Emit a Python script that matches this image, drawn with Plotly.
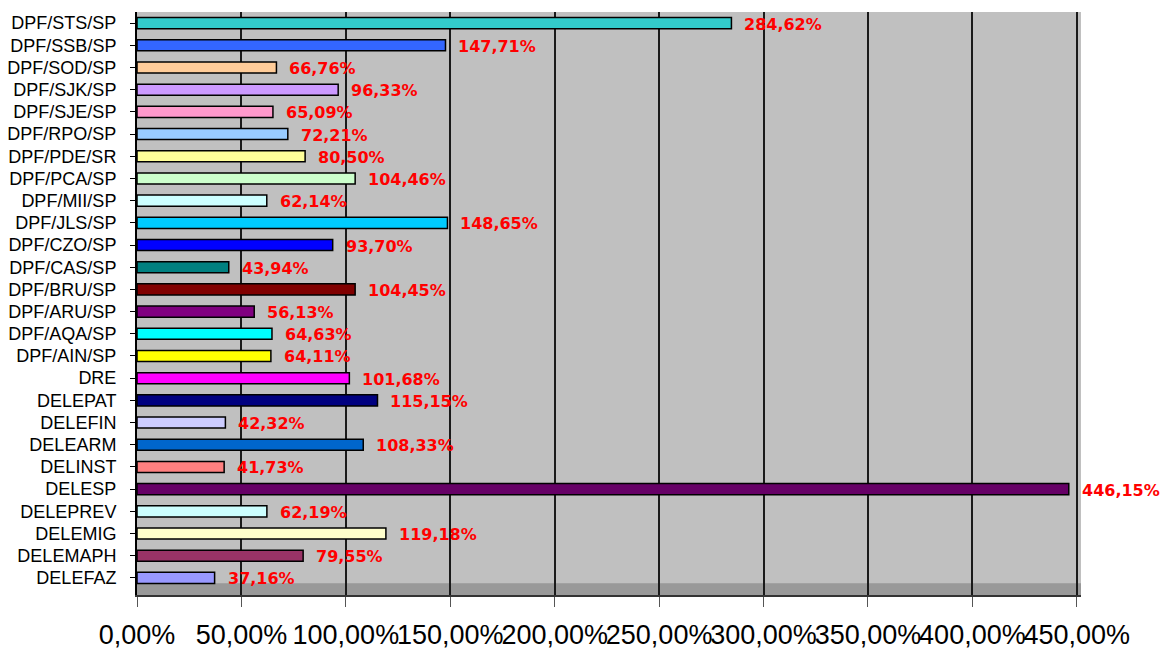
import plotly.graph_objects as go

categories = ["DPF/STS/SP", "DPF/SSB/SP", "DPF/SOD/SP", "DPF/SJK/SP", "DPF/SJE/SP",
              "DPF/RPO/SP", "DPF/PDE/SR", "DPF/PCA/SP", "DPF/MII/SP", "DPF/JLS/SP",
              "DPF/CZO/SP", "DPF/CAS/SP", "DPF/BRU/SP", "DPF/ARU/SP", "DPF/AQA/SP",
              "DPF/AIN/SP", "DRE", "DELEPAT", "DELEFIN", "DELEARM", "DELINST",
              "DELESP", "DELEPREV", "DELEMIG", "DELEMAPH", "DELEFAZ"]
values = [284.62, 147.71, 66.76, 96.33, 65.09, 72.21, 80.50, 104.46, 62.14, 148.65,
          93.70, 43.94, 104.45, 56.13, 64.63, 64.11, 101.68, 115.15, 42.32, 108.33,
          41.73, 446.15, 62.19, 119.18, 79.55, 37.16]
colors = ["#33CCCC", "#3366FF", "#FFCC99", "#CC99FF", "#FF99CC", "#99CCFF", "#FFFF99",
          "#CCFFCC", "#CCFFFF", "#00CCFF", "#0000FF", "#008080", "#800000", "#800080",
          "#00FFFF", "#FFFF00", "#FF00FF", "#000080", "#CCCCFF", "#0066CC", "#FF8080",
          "#660066", "#CCFFFF", "#FFFFCC", "#993366", "#9999FF"]
tick_vals = [0, 50, 100, 150, 200, 250, 300, 350, 400, 450]
tick_text = ["0,00%", "50,00%", "100,00%", "150,00%", "200,00%", "250,00%",
             "300,00%", "350,00%", "400,00%", "450,00%"]

labels = [f"{v:.2f}".replace(".", ",") + "%" for v in values]

fig = go.Figure()
fig.add_trace(go.Bar(
    x=values, y=categories, orientation="h", width=0.5,
    marker=dict(color=colors, line=dict(color="#000000", width=1.5)),
    hoverinfo="skip",
))

for c, v, t in zip(categories, values, labels):
    fig.add_annotation(x=v, y=c, text=t, xanchor="left", xshift=11, showarrow=False,
                       font=dict(family="DejaVu Sans", size=16, color="#FF0000", weight="bold"),
                       yshift=-1)

# floor band
fig.add_shape(type="rect", xref="paper", yref="paper", x0=0, x1=1, y0=0, y1=0.02,
              fillcolor="#999999", line=dict(width=0), layer="below")

# page body has an 8px margin; figure sized/margined to compensate
fig.update_layout(
    width=1161, height=647,
    margin=dict(l=129, r=88, t=4, b=60, autoexpand=False),
    paper_bgcolor="#FFFFFF", plot_bgcolor="#C0C0C0",
    showlegend=False,
    bargap=0.5,
    font=dict(family="Liberation Sans, Arial", color="#000000"),
)
fig.update_xaxes(
    range=[0, 452], tickvals=tick_vals, ticktext=tick_text, tickangle=0,
    tickfont=dict(size=27, family="Liberation Sans, Arial"),
    showgrid=True, gridcolor="#1A1A1A", gridwidth=2,
    ticks="outside", ticklen=10, tickcolor="#555555",
    ticklabelstandoff=5,
    showline=True, linecolor="#333333", linewidth=2,
    zeroline=False, fixedrange=True, automargin=False,
)
fig.update_yaxes(
    categoryorder="array", categoryarray=categories[::-1],
    range=[-0.77, 25.5],
    tickfont=dict(size=18, family="Liberation Sans, Arial"),
    ticks="outside", ticklen=5, tickcolor="#000000",
    ticklabelstandoff=10,
    showline=True, linecolor="#000000", linewidth=2,
    showgrid=False, fixedrange=True, automargin=False,
)

fig.write_html("out.html")
